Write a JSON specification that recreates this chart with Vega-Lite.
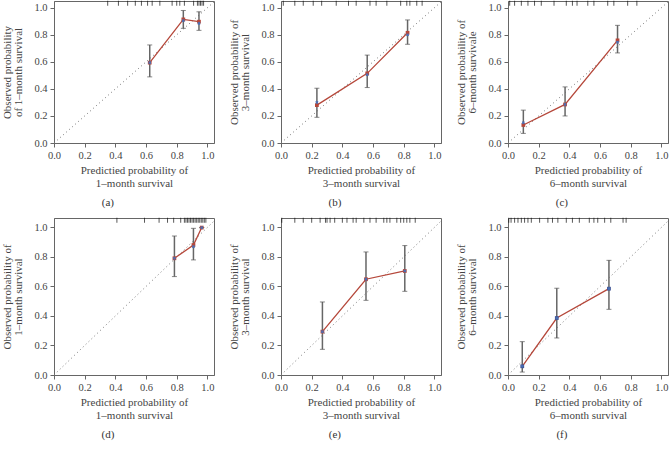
{
  "$schema": "https://vega.github.io/schema/vega-lite/v6.json",
  "padding": {"left": 1, "top": 0, "right": 0, "bottom": 0},
  "background": "white",
  "datasets": {
    "diag": [{"x": 0, "y": 0, "x2": 1.1, "y2": 1.1}],
    "pts": [
      {"p": "a", "x": 0.624, "y": 0.594, "yb": 0.594, "lo": 0.489, "hi": 0.725},
      {"p": "a", "x": 0.843, "y": 0.914, "yb": 0.905, "lo": 0.848, "hi": 0.98},
      {"p": "a", "x": 0.945, "y": 0.897, "yb": 0.885, "lo": 0.833, "hi": 0.97},
      {"p": "b", "x": 0.234, "y": 0.28, "yb": 0.30, "lo": 0.19, "hi": 0.405},
      {"p": "b", "x": 0.562, "y": 0.515, "yb": 0.505, "lo": 0.41, "hi": 0.65},
      {"p": "b", "x": 0.825, "y": 0.815, "yb": 0.80, "lo": 0.73, "hi": 0.91},
      {"p": "c", "x": 0.10, "y": 0.133, "yb": 0.15, "lo": 0.071, "hi": 0.243},
      {"p": "c", "x": 0.372, "y": 0.285, "yb": 0.285, "lo": 0.2, "hi": 0.415},
      {"p": "c", "x": 0.714, "y": 0.759, "yb": 0.745, "lo": 0.666, "hi": 0.87},
      {"p": "d", "x": 0.785, "y": 0.791, "yb": 0.791, "lo": 0.667, "hi": 0.942},
      {"p": "d", "x": 0.909, "y": 0.881, "yb": 0.87, "lo": 0.78, "hi": 0.994},
      {"p": "d", "x": 0.963, "y": 0.999, "yb": 0.999, "lo": 0.999, "hi": 0.999},
      {"p": "e", "x": 0.27, "y": 0.294, "yb": 0.294, "lo": 0.174, "hi": 0.495},
      {"p": "e", "x": 0.554, "y": 0.649, "yb": 0.649, "lo": 0.506, "hi": 0.834},
      {"p": "e", "x": 0.807, "y": 0.705, "yb": 0.705, "lo": 0.567, "hi": 0.877},
      {"p": "f", "x": 0.093, "y": 0.059, "yb": 0.059, "lo": 0.02, "hi": 0.226},
      {"p": "f", "x": 0.318, "y": 0.386, "yb": 0.386, "lo": 0.251, "hi": 0.588},
      {"p": "f", "x": 0.658, "y": 0.585, "yb": 0.585, "lo": 0.445, "hi": 0.777}
    ],
    "rug": [
      {"p": "a", "x": 0.35}, {"p": "a", "x": 0.42}, {"p": "a", "x": 0.48}, {"p": "a", "x": 0.53}, {"p": "a", "x": 0.57}, {"p": "a", "x": 0.61}, {"p": "a", "x": 0.64}, {"p": "a", "x": 0.69}, {"p": "a", "x": 0.77}, {"p": "a", "x": 0.80}, {"p": "a", "x": 0.82}, {"p": "a", "x": 0.85}, {"p": "a", "x": 0.91}, {"p": "a", "x": 0.935}, {"p": "a", "x": 0.945}, {"p": "a", "x": 0.955}, {"p": "a", "x": 0.965}, {"p": "a", "x": 0.975},
      {"p": "b", "x": 0.015}, {"p": "b", "x": 0.09}, {"p": "b", "x": 0.145}, {"p": "b", "x": 0.21}, {"p": "b", "x": 0.265}, {"p": "b", "x": 0.36}, {"p": "b", "x": 0.44}, {"p": "b", "x": 0.49}, {"p": "b", "x": 0.58}, {"p": "b", "x": 0.62}, {"p": "b", "x": 0.69}, {"p": "b", "x": 0.78}, {"p": "b", "x": 0.82}, {"p": "b", "x": 0.84}, {"p": "b", "x": 0.885}, {"p": "b", "x": 0.92},
      {"p": "c", "x": 0.011}, {"p": "c", "x": 0.043}, {"p": "c", "x": 0.087}, {"p": "c", "x": 0.13}, {"p": "c", "x": 0.173}, {"p": "c", "x": 0.217}, {"p": "c", "x": 0.30}, {"p": "c", "x": 0.38}, {"p": "c", "x": 0.42}, {"p": "c", "x": 0.45}, {"p": "c", "x": 0.52}, {"p": "c", "x": 0.56}, {"p": "c", "x": 0.65}, {"p": "c", "x": 0.69}, {"p": "c", "x": 0.78}, {"p": "c", "x": 0.84},
      {"p": "d", "x": 0.41}, {"p": "d", "x": 0.59}, {"p": "d", "x": 0.685}, {"p": "d", "x": 0.74}, {"p": "d", "x": 0.78}, {"p": "d", "x": 0.826}, {"p": "d", "x": 0.85}, {"p": "d", "x": 0.86}, {"p": "d", "x": 0.87}, {"p": "d", "x": 0.88}, {"p": "d", "x": 0.89}, {"p": "d", "x": 0.90}, {"p": "d", "x": 0.91}, {"p": "d", "x": 0.92}, {"p": "d", "x": 0.93}, {"p": "d", "x": 0.94}, {"p": "d", "x": 0.95}, {"p": "d", "x": 0.96}, {"p": "d", "x": 0.97}, {"p": "d", "x": 0.98}, {"p": "d", "x": 0.99},
      {"p": "e", "x": 0.005}, {"p": "e", "x": 0.09}, {"p": "e", "x": 0.145}, {"p": "e", "x": 0.2}, {"p": "e", "x": 0.255}, {"p": "e", "x": 0.29}, {"p": "e", "x": 0.30}, {"p": "e", "x": 0.32}, {"p": "e", "x": 0.35}, {"p": "e", "x": 0.40}, {"p": "e", "x": 0.43}, {"p": "e", "x": 0.47}, {"p": "e", "x": 0.49}, {"p": "e", "x": 0.54}, {"p": "e", "x": 0.58}, {"p": "e", "x": 0.62}, {"p": "e", "x": 0.67}, {"p": "e", "x": 0.69}, {"p": "e", "x": 0.71}, {"p": "e", "x": 0.755}, {"p": "e", "x": 0.78}, {"p": "e", "x": 0.80}, {"p": "e", "x": 0.82}, {"p": "e", "x": 0.84}, {"p": "e", "x": 0.875},
      {"p": "f", "x": 0.005}, {"p": "f", "x": 0.02}, {"p": "f", "x": 0.043}, {"p": "f", "x": 0.065}, {"p": "f", "x": 0.087}, {"p": "f", "x": 0.108}, {"p": "f", "x": 0.13}, {"p": "f", "x": 0.152}, {"p": "f", "x": 0.206}, {"p": "f", "x": 0.26}, {"p": "f", "x": 0.29}, {"p": "f", "x": 0.325}, {"p": "f", "x": 0.38}, {"p": "f", "x": 0.42}, {"p": "f", "x": 0.465}, {"p": "f", "x": 0.53}, {"p": "f", "x": 0.56}, {"p": "f", "x": 0.585}, {"p": "f", "x": 0.63}, {"p": "f", "x": 0.67}, {"p": "f", "x": 0.75}, {"p": "f", "x": 0.77}
    ]
  },
  "spacing": 8,
  "vconcat": [
    {
      "bounds": "flush",
      "spacing": 67,
      "hconcat": [
        {
          "width": 160, "height": 142,
          "title": {"text": "(a)"},
          "encoding": {"x": {"field": "x", "type": "quantitative", "scale": {"domain": [0, 1.043], "nice": false}, "axis": {"values": [0, 0.2, 0.4, 0.6, 0.8, 1], "title": ["Predictied probability of", "1–month survival"]}}},
          "layer": [
            {"data": {"name": "diag"}, "mark": {"type": "rule", "strokeDash": [1, 3], "color": "#777", "clip": true}, "encoding": {"y": {"field": "y", "type": "quantitative", "scale": {"domain": [0, 1.05], "nice": false}, "axis": {"values": [0, 0.2, 0.4, 0.6, 0.8, 1], "title": ["Observed probability", "of 1–month survival"]}}, "x2": {"field": "x2"}, "y2": {"field": "y2"}}},
            {"data": {"name": "rug"}, "transform": [{"filter": "datum.p === 'a'"}], "mark": {"type": "tick", "orient": "vertical", "color": "#111", "size": 5, "thickness": 1}, "encoding": {"y": {"datum": 1.033, "type": "quantitative", "scale": {"domain": [0, 1.05], "nice": false}, "axis": {"values": [0, 0.2, 0.4, 0.6, 0.8, 1], "title": ["Observed probability", "of 1–month survival"]}}}},
            {"data": {"name": "pts"}, "transform": [{"filter": "datum.p === 'a'"}],
             "encoding": {"y": {"field": "y", "type": "quantitative", "scale": {"domain": [0, 1.05], "nice": false}, "axis": {"values": [0, 0.2, 0.4, 0.6, 0.8, 1], "title": ["Observed probability", "of 1–month survival"]}}},
             "layer": [
              {"mark": {"type": "rule", "color": "#666", "strokeWidth": 1.5}, "encoding": {"y": {"field": "lo"}, "y2": {"field": "hi"}}},
              {"mark": {"type": "tick", "orient": "horizontal", "color": "#555", "size": 5, "thickness": 1}, "encoding": {"y": {"field": "lo"}}},
              {"mark": {"type": "tick", "orient": "horizontal", "color": "#555", "size": 5, "thickness": 1}, "encoding": {"y": {"field": "hi"}}},
              {"mark": {"type": "line", "color": "#b5473a", "strokeWidth": 1.3}},
              {"mark": {"type": "point", "shape": "square", "filled": true, "color": "#b5473a", "size": 14, "opacity": 1}},
              {"mark": {"type": "point", "shape": "cross", "filled": true, "color": "#4a6fb5", "size": 10, "angle": 45, "opacity": 1}, "encoding": {"y": {"field": "yb"}}}
            ]}
          ]
        },
        {
          "width": 160, "height": 142,
          "title": {"text": "(b)"},
          "encoding": {"x": {"field": "x", "type": "quantitative", "scale": {"domain": [0, 1.043], "nice": false}, "axis": {"values": [0, 0.2, 0.4, 0.6, 0.8, 1], "title": ["Predictied probability of", "3–month survival"]}}},
          "layer": [
            {"data": {"name": "diag"}, "mark": {"type": "rule", "strokeDash": [1, 3], "color": "#777", "clip": true}, "encoding": {"y": {"field": "y", "type": "quantitative", "scale": {"domain": [0, 1.05], "nice": false}, "axis": {"values": [0, 0.2, 0.4, 0.6, 0.8, 1], "title": ["Observed probability of", "3–month survival"]}}, "x2": {"field": "x2"}, "y2": {"field": "y2"}}},
            {"data": {"name": "rug"}, "transform": [{"filter": "datum.p === 'b'"}], "mark": {"type": "tick", "orient": "vertical", "color": "#111", "size": 5, "thickness": 1}, "encoding": {"y": {"datum": 1.033, "type": "quantitative", "scale": {"domain": [0, 1.05], "nice": false}, "axis": {"values": [0, 0.2, 0.4, 0.6, 0.8, 1], "title": ["Observed probability of", "3–month survival"]}}}},
            {"data": {"name": "pts"}, "transform": [{"filter": "datum.p === 'b'"}],
             "encoding": {"y": {"field": "y", "type": "quantitative", "scale": {"domain": [0, 1.05], "nice": false}, "axis": {"values": [0, 0.2, 0.4, 0.6, 0.8, 1], "title": ["Observed probability of", "3–month survival"]}}},
             "layer": [
              {"mark": {"type": "rule", "color": "#666", "strokeWidth": 1.5}, "encoding": {"y": {"field": "lo"}, "y2": {"field": "hi"}}},
              {"mark": {"type": "tick", "orient": "horizontal", "color": "#555", "size": 5, "thickness": 1}, "encoding": {"y": {"field": "lo"}}},
              {"mark": {"type": "tick", "orient": "horizontal", "color": "#555", "size": 5, "thickness": 1}, "encoding": {"y": {"field": "hi"}}},
              {"mark": {"type": "line", "color": "#b5473a", "strokeWidth": 1.3}},
              {"mark": {"type": "point", "shape": "square", "filled": true, "color": "#b5473a", "size": 14, "opacity": 1}},
              {"mark": {"type": "point", "shape": "cross", "filled": true, "color": "#4a6fb5", "size": 10, "angle": 45, "opacity": 1}, "encoding": {"y": {"field": "yb"}}}
            ]}
          ]
        },
        {
          "width": 160, "height": 142,
          "title": {"text": "(c)"},
          "encoding": {"x": {"field": "x", "type": "quantitative", "scale": {"domain": [0, 1.043], "nice": false}, "axis": {"values": [0, 0.2, 0.4, 0.6, 0.8, 1], "title": ["Predictied probability of", "6–month survival"]}}},
          "layer": [
            {"data": {"name": "diag"}, "mark": {"type": "rule", "strokeDash": [1, 3], "color": "#777", "clip": true}, "encoding": {"y": {"field": "y", "type": "quantitative", "scale": {"domain": [0, 1.05], "nice": false}, "axis": {"values": [0, 0.2, 0.4, 0.6, 0.8, 1], "title": ["Observed probability of", "6–month survivale"]}}, "x2": {"field": "x2"}, "y2": {"field": "y2"}}},
            {"data": {"name": "rug"}, "transform": [{"filter": "datum.p === 'c'"}], "mark": {"type": "tick", "orient": "vertical", "color": "#111", "size": 5, "thickness": 1}, "encoding": {"y": {"datum": 1.033, "type": "quantitative", "scale": {"domain": [0, 1.05], "nice": false}, "axis": {"values": [0, 0.2, 0.4, 0.6, 0.8, 1], "title": ["Observed probability of", "6–month survivale"]}}}},
            {"data": {"name": "pts"}, "transform": [{"filter": "datum.p === 'c'"}],
             "encoding": {"y": {"field": "y", "type": "quantitative", "scale": {"domain": [0, 1.05], "nice": false}, "axis": {"values": [0, 0.2, 0.4, 0.6, 0.8, 1], "title": ["Observed probability of", "6–month survivale"]}}},
             "layer": [
              {"mark": {"type": "rule", "color": "#666", "strokeWidth": 1.5}, "encoding": {"y": {"field": "lo"}, "y2": {"field": "hi"}}},
              {"mark": {"type": "tick", "orient": "horizontal", "color": "#555", "size": 5, "thickness": 1}, "encoding": {"y": {"field": "lo"}}},
              {"mark": {"type": "tick", "orient": "horizontal", "color": "#555", "size": 5, "thickness": 1}, "encoding": {"y": {"field": "hi"}}},
              {"mark": {"type": "line", "color": "#b5473a", "strokeWidth": 1.3}},
              {"mark": {"type": "point", "shape": "square", "filled": true, "color": "#b5473a", "size": 14, "opacity": 1}},
              {"mark": {"type": "point", "shape": "cross", "filled": true, "color": "#4a6fb5", "size": 10, "angle": 45, "opacity": 1}, "encoding": {"y": {"field": "yb"}}}
            ]}
          ]
        }
      ]
    },
    {
      "bounds": "flush",
      "spacing": 67,
      "hconcat": [
        {
          "width": 160, "height": 157,
          "title": {"text": "(d)"},
          "encoding": {"x": {"field": "x", "type": "quantitative", "scale": {"domain": [0, 1.043], "nice": false}, "axis": {"values": [0, 0.2, 0.4, 0.6, 0.8, 1], "title": ["Predictied probability of", "1–month survival"]}}},
          "layer": [
            {"data": {"name": "diag"}, "mark": {"type": "rule", "strokeDash": [1, 3], "color": "#777", "clip": true}, "encoding": {"y": {"field": "y", "type": "quantitative", "scale": {"domain": [0, 1.064], "nice": false}, "axis": {"values": [0, 0.2, 0.4, 0.6, 0.8, 1], "title": ["Observed probability of", "1–month survival"]}}, "x2": {"field": "x2"}, "y2": {"field": "y2"}}},
            {"data": {"name": "rug"}, "transform": [{"filter": "datum.p === 'd'"}], "mark": {"type": "tick", "orient": "vertical", "color": "#111", "size": 5, "thickness": 1}, "encoding": {"y": {"datum": 1.048, "type": "quantitative", "scale": {"domain": [0, 1.064], "nice": false}, "axis": {"values": [0, 0.2, 0.4, 0.6, 0.8, 1], "title": ["Observed probability of", "1–month survival"]}}}},
            {"data": {"name": "pts"}, "transform": [{"filter": "datum.p === 'd'"}],
             "encoding": {"y": {"field": "y", "type": "quantitative", "scale": {"domain": [0, 1.064], "nice": false}, "axis": {"values": [0, 0.2, 0.4, 0.6, 0.8, 1], "title": ["Observed probability of", "1–month survival"]}}},
             "layer": [
              {"mark": {"type": "rule", "color": "#666", "strokeWidth": 1.5}, "encoding": {"y": {"field": "lo"}, "y2": {"field": "hi"}}},
              {"mark": {"type": "tick", "orient": "horizontal", "color": "#555", "size": 5, "thickness": 1}, "encoding": {"y": {"field": "lo"}}},
              {"mark": {"type": "tick", "orient": "horizontal", "color": "#555", "size": 5, "thickness": 1}, "encoding": {"y": {"field": "hi"}}},
              {"mark": {"type": "line", "color": "#b5473a", "strokeWidth": 1.3}},
              {"mark": {"type": "point", "shape": "square", "filled": true, "color": "#b5473a", "size": 14, "opacity": 1}},
              {"mark": {"type": "point", "shape": "cross", "filled": true, "color": "#4a6fb5", "size": 10, "angle": 45, "opacity": 1}, "encoding": {"y": {"field": "yb"}}}
            ]}
          ]
        },
        {
          "width": 160, "height": 157,
          "title": {"text": "(e)"},
          "encoding": {"x": {"field": "x", "type": "quantitative", "scale": {"domain": [0, 1.043], "nice": false}, "axis": {"values": [0, 0.2, 0.4, 0.6, 0.8, 1], "title": ["Predictied probability of", "3–month survival"]}}},
          "layer": [
            {"data": {"name": "diag"}, "mark": {"type": "rule", "strokeDash": [1, 3], "color": "#777", "clip": true}, "encoding": {"y": {"field": "y", "type": "quantitative", "scale": {"domain": [0, 1.064], "nice": false}, "axis": {"values": [0, 0.2, 0.4, 0.6, 0.8, 1], "title": ["Observed probability of", "3–month survival"]}}, "x2": {"field": "x2"}, "y2": {"field": "y2"}}},
            {"data": {"name": "rug"}, "transform": [{"filter": "datum.p === 'e'"}], "mark": {"type": "tick", "orient": "vertical", "color": "#111", "size": 5, "thickness": 1}, "encoding": {"y": {"datum": 1.048, "type": "quantitative", "scale": {"domain": [0, 1.064], "nice": false}, "axis": {"values": [0, 0.2, 0.4, 0.6, 0.8, 1], "title": ["Observed probability of", "3–month survival"]}}}},
            {"data": {"name": "pts"}, "transform": [{"filter": "datum.p === 'e'"}],
             "encoding": {"y": {"field": "y", "type": "quantitative", "scale": {"domain": [0, 1.064], "nice": false}, "axis": {"values": [0, 0.2, 0.4, 0.6, 0.8, 1], "title": ["Observed probability of", "3–month survival"]}}},
             "layer": [
              {"mark": {"type": "rule", "color": "#666", "strokeWidth": 1.5}, "encoding": {"y": {"field": "lo"}, "y2": {"field": "hi"}}},
              {"mark": {"type": "tick", "orient": "horizontal", "color": "#555", "size": 5, "thickness": 1}, "encoding": {"y": {"field": "lo"}}},
              {"mark": {"type": "tick", "orient": "horizontal", "color": "#555", "size": 5, "thickness": 1}, "encoding": {"y": {"field": "hi"}}},
              {"mark": {"type": "line", "color": "#b5473a", "strokeWidth": 1.3}},
              {"mark": {"type": "point", "shape": "square", "filled": true, "color": "#b5473a", "size": 14, "opacity": 1}},
              {"mark": {"type": "point", "shape": "cross", "filled": true, "color": "#4a6fb5", "size": 10, "angle": 45, "opacity": 1}, "encoding": {"y": {"field": "yb"}}}
            ]}
          ]
        },
        {
          "width": 160, "height": 157,
          "title": {"text": "(f)"},
          "encoding": {"x": {"field": "x", "type": "quantitative", "scale": {"domain": [0, 1.043], "nice": false}, "axis": {"values": [0, 0.2, 0.4, 0.6, 0.8, 1], "title": ["Predictied probability of", "6–month survival"]}}},
          "layer": [
            {"data": {"name": "diag"}, "mark": {"type": "rule", "strokeDash": [1, 3], "color": "#777", "clip": true}, "encoding": {"y": {"field": "y", "type": "quantitative", "scale": {"domain": [0, 1.064], "nice": false}, "axis": {"values": [0, 0.2, 0.4, 0.6, 0.8, 1], "title": ["Observed probability of", "6–month survival"]}}, "x2": {"field": "x2"}, "y2": {"field": "y2"}}},
            {"data": {"name": "rug"}, "transform": [{"filter": "datum.p === 'f'"}], "mark": {"type": "tick", "orient": "vertical", "color": "#111", "size": 5, "thickness": 1}, "encoding": {"y": {"datum": 1.048, "type": "quantitative", "scale": {"domain": [0, 1.064], "nice": false}, "axis": {"values": [0, 0.2, 0.4, 0.6, 0.8, 1], "title": ["Observed probability of", "6–month survival"]}}}},
            {"data": {"name": "pts"}, "transform": [{"filter": "datum.p === 'f'"}],
             "encoding": {"y": {"field": "y", "type": "quantitative", "scale": {"domain": [0, 1.064], "nice": false}, "axis": {"values": [0, 0.2, 0.4, 0.6, 0.8, 1], "title": ["Observed probability of", "6–month survival"]}}},
             "layer": [
              {"mark": {"type": "rule", "color": "#666", "strokeWidth": 1.5}, "encoding": {"y": {"field": "lo"}, "y2": {"field": "hi"}}},
              {"mark": {"type": "tick", "orient": "horizontal", "color": "#555", "size": 5, "thickness": 1}, "encoding": {"y": {"field": "lo"}}},
              {"mark": {"type": "tick", "orient": "horizontal", "color": "#555", "size": 5, "thickness": 1}, "encoding": {"y": {"field": "hi"}}},
              {"mark": {"type": "line", "color": "#b5473a", "strokeWidth": 1.3}},
              {"mark": {"type": "point", "shape": "square", "filled": true, "color": "#3d4f8f", "size": 14, "opacity": 1}},
              {"mark": {"type": "point", "shape": "cross", "filled": true, "color": "#4a6fb5", "size": 10, "angle": 45, "opacity": 1}, "encoding": {"y": {"field": "yb"}}}
            ]}
          ]
        }
      ]
    }
  ],
  "config": {
    "font": "Liberation Serif",
    "view": {"stroke": "#666", "strokeWidth": 1},
    "axis": {"grid": false, "labelFont": "Liberation Serif", "labelFontSize": 10.5, "labelColor": "#444", "titleFont": "Liberation Serif", "titleFontSize": 11, "titleFontWeight": "normal", "titleColor": "#444", "domainColor": "#666", "tickColor": "#666", "tickSize": 4, "format": ".1f", "labelPadding": 3, "titleLineHeight": 11, "labelFlush": false},
    "axisX": {"titlePadding": 4, "titleLineHeight": 12.5},
    "axisY": {"titlePadding": 10},
    "title": {"orient": "bottom", "frame": "bounds", "anchor": "middle", "font": "Liberation Serif", "fontSize": 11, "fontWeight": "normal", "color": "#333", "offset": 9}
  }
}
